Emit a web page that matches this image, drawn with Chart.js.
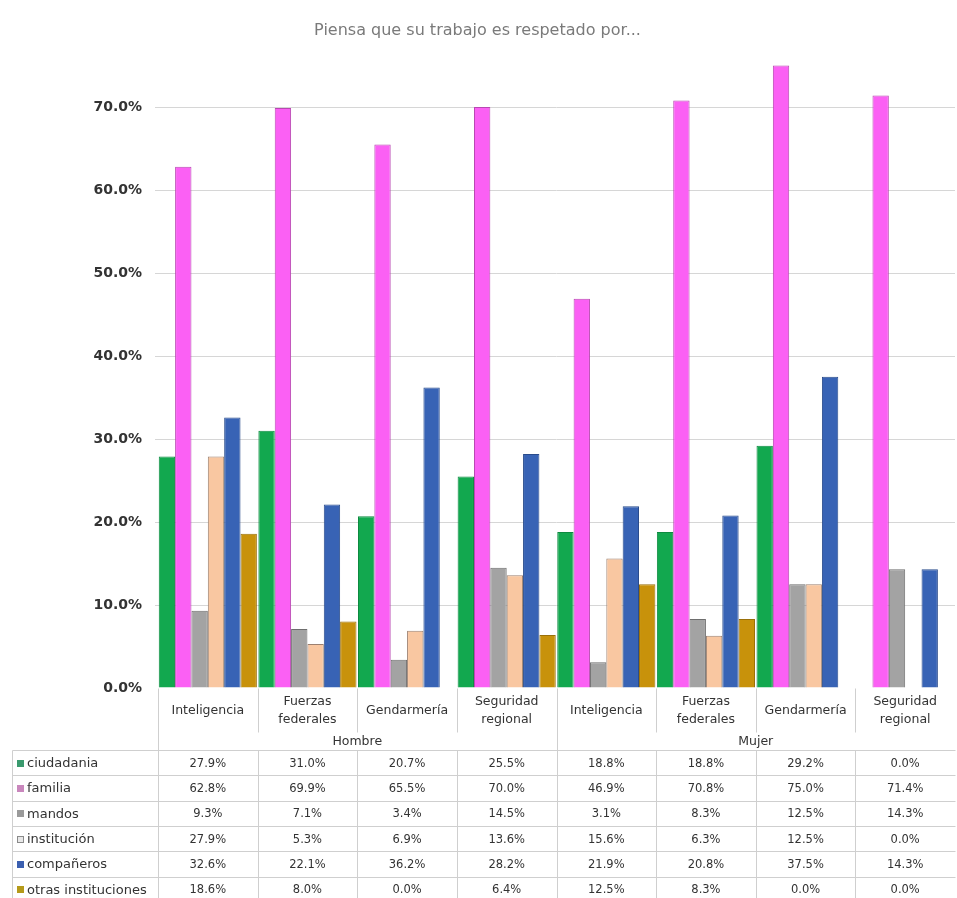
<!DOCTYPE html>
<html>
<head>
<meta charset="utf-8">
<script src="https://cdn.jsdelivr.net/npm/chart.js@4"></script>
<style>
  html, body { margin: 0; padding: 0; background: #ffffff; }
  #wrap { width: 957px; height: 898px; }
</style>
</head>
<body>
<div id="wrap"><canvas id="chart" width="957" height="898"></canvas></div>
<script>
// Categories (institution) grouped by sex
const categories = [
  ['Inteligencia'], ['Fuerzas', 'federales'], ['Gendarmería'], ['Seguridad', 'regional'],
  ['Inteligencia'], ['Fuerzas', 'federales'], ['Gendarmería'], ['Seguridad', 'regional']
];
const groups = ['Hombre', 'Mujer'];
const groupSize = 4;

// Series values (%)
const ciudadania   = [27.9, 31.0, 20.7, 25.5, 18.8, 18.8, 29.2, 0.0];
const familia      = [62.8, 69.9, 65.5, 70.0, 46.9, 70.8, 75.0, 71.4];
const mandos       = [9.3, 7.1, 3.4, 14.5, 3.1, 8.3, 12.5, 14.3];
const institucion  = [27.9, 5.3, 6.9, 13.6, 15.6, 6.3, 12.5, 0.0];
const companeros   = [32.6, 22.1, 36.2, 28.2, 21.9, 20.8, 37.5, 14.3];
const otras        = [18.6, 8.0, 0.0, 6.4, 12.5, 8.3, 0.0, 0.0];

const seriesNames = ['ciudadania', 'familia', 'mandos', 'institución', 'compañeros', 'otras instituciones'];
const seriesValues = [ciudadania, familia, mandos, institucion, companeros, otras];
const seriesFill   = ['#12a84f', '#fb60f4', '#a3a3a3', '#f9c7a1', '#3863b5', '#c8920b'];
const seriesEdge   = ['#0d8a40', '#b848b2', '#6e6e6e', '#9c8070', '#2a4c8c', '#9a700a'];
const legendKey    = ['#3a9a6e', '#c987bd', '#9a9a9a', '#e8e8e8', '#3b5fb0', '#b59a1a'];

// Axis ticks
const yTicks = [0, 10, 20, 30, 40, 50, 60, 70];
const yMax = 77;

const FONT = '"DejaVu Sans", Verdana, sans-serif';

const datasets = seriesNames.map((name, i) => ({
  label: name,
  data: seriesValues[i],
  backgroundColor: seriesFill[i],
  borderColor: seriesEdge[i],
  borderWidth: c => (c.raw === 0 ? 0 : 1),
  borderSkipped: 'bottom',
  categoryPercentage: 0.985,
  barPercentage: 1.0
}));

// Data table drawn under the plot, aligned to the category scale
const dataTable = {
  id: 'dataTable',
  afterDraw(chart) {
    const { ctx, chartArea: a, scales: { x } } = chart;
    const n = categories.length;
    const half = (x.getPixelForValue(1) - x.getPixelForValue(0)) / 2;
    const edges = [];
    for (let i = 0; i < n; i++) edges.push(x.getPixelForValue(i) - half);
    edges.push(x.getPixelForValue(n - 1) + half);

    const headTop = a.bottom;
    const catBottom = headTop + 44;
    const groupBottom = headTop + 62;
    const rowH = 25.3;
    const tableLeft = 12;
    const tableBottom = groupBottom + rowH * seriesNames.length;

    ctx.save();
    ctx.strokeStyle = '#cfcfcf';
    ctx.lineWidth = 1;

    const line = (x1, y1, x2, y2) => {
      ctx.beginPath();
      ctx.moveTo(Math.round(x1) + 0.5, Math.round(y1) + 0.5);
      ctx.lineTo(Math.round(x2) + 0.5, Math.round(y2) + 0.5);
      ctx.stroke();
    };

    // header separators
    for (let i = 0; i < n; i++) {
      const isGroupEdge = i % groupSize === 0;
      line(edges[i], headTop, edges[i], isGroupEdge ? tableBottom : catBottom);
      if (!isGroupEdge) line(edges[i], groupBottom, edges[i], tableBottom);
    }
    // table rows
    for (let r = 0; r <= seriesNames.length; r++) {
      const y = groupBottom + r * rowH;
      line(tableLeft, y, edges[n], y);
    }
    line(tableLeft, groupBottom, tableLeft, tableBottom);

    ctx.fillStyle = '#333333';
    ctx.font = '12.5px ' + FONT;
    ctx.textAlign = 'center';
    ctx.textBaseline = 'middle';

    // category labels
    const catMid = (headTop + catBottom) / 2 + 1;
    categories.forEach((lbl, i) => {
      const cx = x.getPixelForValue(i);
      const lh = 18;
      const y0 = catMid - (lbl.length - 1) * lh / 2;
      lbl.forEach((t, k) => ctx.fillText(t, cx, y0 + k * lh));
    });

    // group labels
    groups.forEach((g, gi) => {
      const l = edges[gi * groupSize], r = edges[(gi + 1) * groupSize];
      ctx.fillText(g, (l + r) / 2, (catBottom + groupBottom) / 2 + 1);
    });

    // series rows
    seriesNames.forEach((name, r) => {
      const cy = groupBottom + r * rowH + rowH / 2 + 1;
      ctx.fillStyle = legendKey[r];
      ctx.fillRect(17, Math.round(cy) - 4, 7, 7);
      if (r === 3) {
        ctx.strokeStyle = '#8a8a8a';
        ctx.strokeRect(17.5, Math.round(cy) - 3.5, 6, 6);
      }
      ctx.fillStyle = '#333333';
      ctx.textAlign = 'left';
      ctx.font = '13px ' + FONT;
      ctx.fillText(name, 27, cy);
      ctx.textAlign = 'center';
      ctx.font = '11.5px ' + FONT;
      seriesValues[r].forEach((v, i) => {
        ctx.fillText(v.toFixed(1) + '%', x.getPixelForValue(i), cy);
      });
    });
    ctx.restore();
  }
};

new Chart(document.getElementById('chart'), {
  type: 'bar',
  data: { labels: categories, datasets },
  options: {
    responsive: false,
    animation: false,
    devicePixelRatio: 1,
    layout: { padding: { left: 0, right: 2, top: 0, bottom: 210 } },
    plugins: {
      legend: { display: false },
      tooltip: { enabled: false },
      title: {
        display: true,
        text: 'Piensa que su trabajo es respetado por...',
        color: '#7a7a7a',
        font: { family: FONT, size: 16, weight: 'normal' },
        padding: { top: 21, bottom: 8.8 }
      }
    },
    scales: {
      x: {
        ticks: { display: false },
        grid: { display: false, drawTicks: false },
        border: { display: false },
        afterFit: s => { s.height = 0; }
      },
      y: {
        min: 0,
        max: yMax,
        afterBuildTicks: s => { s.ticks = yTicks.map(v => ({ value: v })); },
        afterFit: s => { s.width = 158; },
        ticks: {
          color: '#333333',
          font: { family: FONT, size: 14, weight: 'bold' },
          padding: 13,
          callback: v => v.toFixed(1) + '%'
        },
        grid: {
          color: c => (c.tick && c.tick.value === 0 ? 'rgba(0,0,0,0)' : '#d6d6d6'),
          tickLength: 3
        },
        border: { display: false }
      }
    }
  },
  plugins: [dataTable]
});
</script>
</body>
</html>
